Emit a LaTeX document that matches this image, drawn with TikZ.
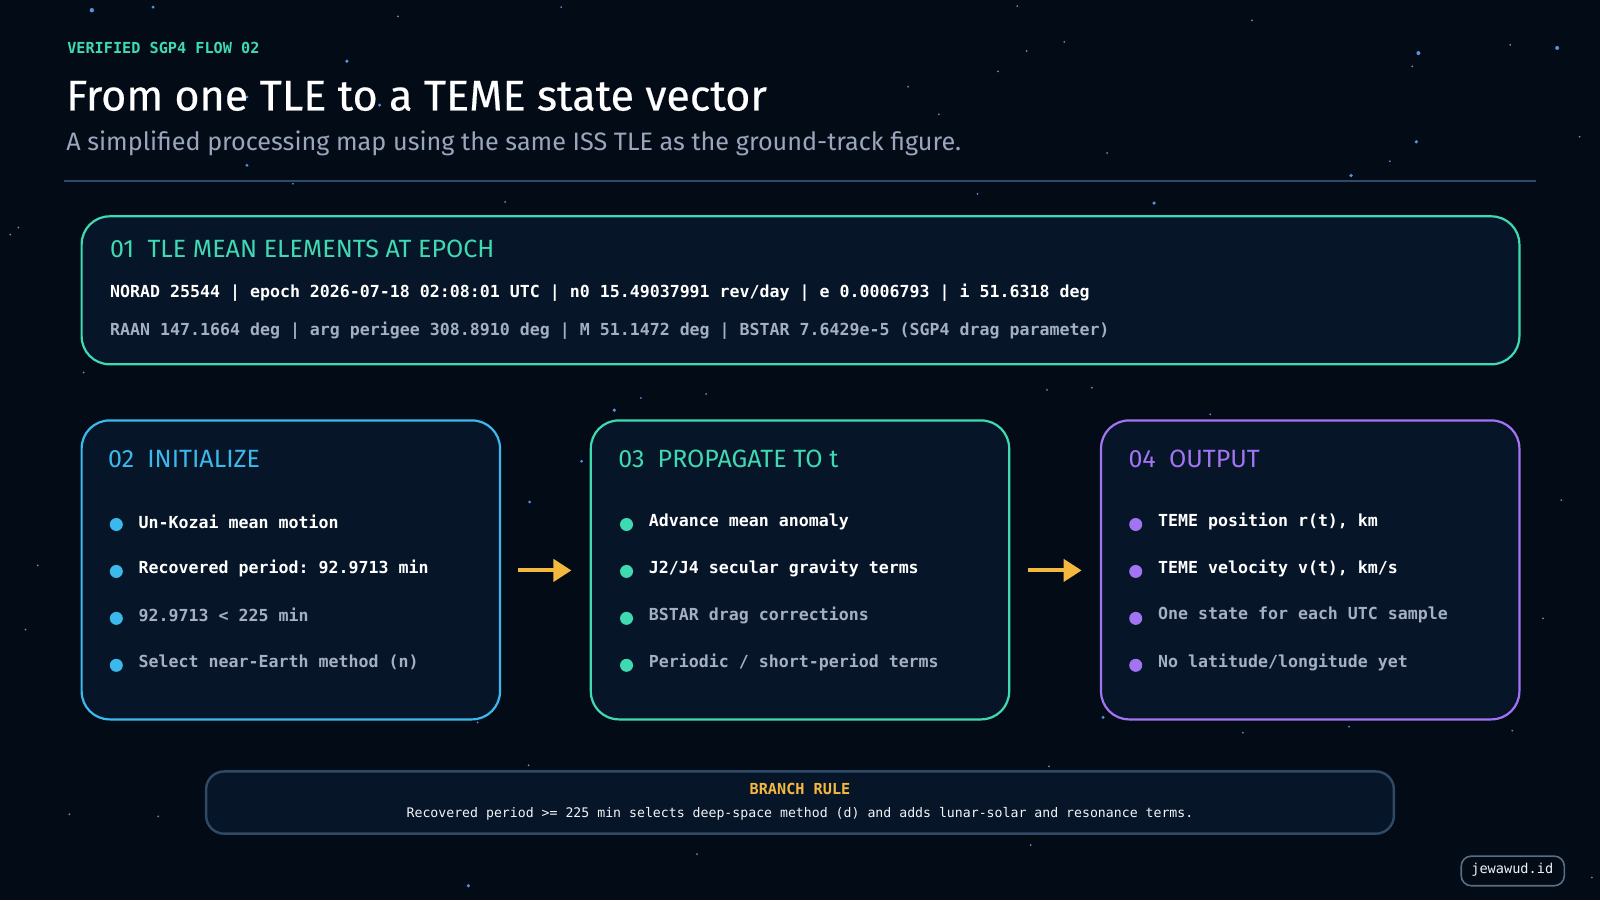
\documentclass[tikz,border=0pt]{standalone}
\usepackage{fontspec}
\setmainfont{Fira Sans}
\setmonofont{DejaVu Sans Mono}
\usetikzlibrary{arrows.meta}
\definecolor{bg}{HTML}{030B17}
\definecolor{boxf}{HTML}{061527}
\definecolor{teal}{HTML}{3FD9B2}
\definecolor{sky}{HTML}{3BB9EC}
\definecolor{purp}{HTML}{A274F2}
\definecolor{gold}{HTML}{F5B83F}
\definecolor{muted}{HTML}{9AA6BC}
\definecolor{rule}{HTML}{2E4A66}
\definecolor{star}{HTML}{5A8FE0}
\tikzset{
 card/.style={draw=#1,line width=1.1pt,rounded corners=14pt,fill=boxf},
 head/.style={anchor=west,text=#1,font=\fontsize{12.5}{14}\selectfont},
 item/.style={anchor=west,text=white,font=\ttfamily\bfseries\fontsize{8.3}{10}\selectfont},
 itemm/.style={anchor=west,text=muted!90!white,font=\ttfamily\bfseries\fontsize{8.3}{10}\selectfont},
 dot/.style={circle,fill=#1,inner sep=0pt,minimum size=6.5pt},
 arr/.style={draw=gold,line width=2pt,-{Triangle[length=9pt,width=11pt]}},
 st/.style={circle,fill=star,inner sep=0pt,minimum size=#1},
}
\newcommand{\bul}[5]{%
 \node[dot=#2] at (#1,514) {}; \node[item] at (#1+15,511) {#3};
 \node[dot=#2] at (#1,560) {}; \node[item] at (#1+15,557) {#4};}
\newcommand{\bulm}[4]{%
 \node[dot=#2] at (#1,606) {}; \node[itemm] at (#1+15,603) {#3};
 \node[dot=#2] at (#1,652) {}; \node[itemm] at (#1+15,649) {#4};}
\begin{document}
\begin{tikzpicture}[x=0.5102pt,y=-0.5102pt]
\useasboundingbox (0,0) rectangle (1568,882);
\fill[bg] (0,0) rectangle (1568,882);
% stars
\foreach \x/\y/\s in {90/10/2.2pt,150/7/1.6pt,340/60/1.8pt,242/162/1.6pt,1390/52/2pt,1526/47/2pt,1388/139/1.8pt,1324/172/1.8pt,1131/199/1.8pt,602/402/1.8pt,570/452/1.5pt,519/492/1.5pt,459/868/1.8pt,1081/703/1.6pt,1028/751/1pt,978/70/1pt,1043/41/1pt,1480/44/1pt,1548/134/1pt,18/223/1pt,10/230/1pt,82/365/1pt,37/554/1pt,68/798/1pt,155/800/1pt,683/837/1pt,1010/828/1pt,1218/718/1pt,1482/716/1pt,1512/606/1pt,1530/490/1pt,1186/406/1pt,1070/380/1pt,1026/382/1pt,628/390/1pt,692/386/1pt,518/750/1pt,468/708/1pt,890/85/1pt,920/112/1pt,1085/150/1pt,1362/158/1pt,958/190/1pt,495/198/1pt,287/180/1pt,390/16/1pt,550/7/1pt,997/6/1pt,1227/20/1pt,25/617/1pt,1322/712/1pt,1560/860/1pt,1006/50/1pt,1384/65/1pt,242/95/1.6pt,372/103/1.6pt}
  \node[st=\s] at (\x,\y) {};
% header
\node[anchor=west,text=teal,font=\ttfamily\bfseries\fontsize{7.6}{9}\selectfont] (kick) at (59,47) {VERIFIED SGP4 FLOW 02};
\node[anchor=west,text=white,font=\fontsize{21.5}{24}\selectfont\addfontfeatures{FakeBold=0.4}] (title) at (58,94) {From one TLE to a TEME state vector};
\node[anchor=west,text=muted,font=\fontsize{12.6}{14}\selectfont] (sub) at (58,140) {A simplified processing map using the same ISS TLE as the ground-track figure.};
\draw[rule,line width=1pt] (63,177) -- (1505,177);
% card 01
\draw[card=teal] (80,212) rectangle (1489,357);
\node[head=teal] (h1) at (101,244) {01\ \ TLE MEAN ELEMENTS AT EPOCH};
\node[item] (l1) at (101,287) {NORAD 25544 | epoch 2026-07-18 02:08:01 UTC | n0 15.49037991 rev/day | e 0.0006793 | i 51.6318 deg};
\node[itemm] (l2) at (101,324) {RAAN 147.1664 deg | arg perigee 308.8910 deg | M 51.1472 deg | BSTAR 7.6429e-5 (SGP4 drag parameter)};
% cards 02-04
\draw[card=sky] (80,412) rectangle (490,705);
\node[head=sky] (h2) at (99,450) {02\ \ INITIALIZE};
\draw[card=teal] (579,412) rectangle (989,705);
\node[head=teal] (h3) at (599,450) {03\ \ PROPAGATE TO t};
\draw[card=purp] (1079,412) rectangle (1489,705);
\node[head=purp] (h4) at (1099,450) {04\ \ OUTPUT};
\bul{114}{sky}{Un-Kozai mean motion}{Recovered period: 92.9713 min}{}
\bulm{114}{sky}{92.9713 < 225 min}{Select near-Earth method (n)}
\bul{614}{teal}{Advance mean anomaly}{J2/J4 secular gravity terms}{}
\bulm{614}{teal}{BSTAR drag corrections}{Periodic / short-period terms}
\bul{1113}{purp}{TEME position r(t), km}{TEME velocity v(t), km/s}{}
\bulm{1113}{purp}{One state for each UTC sample}{No latitude/longitude yet}
\coordinate (a1s) at (508,559); \coordinate (a1e) at (560,559);
\coordinate (a2s) at (1007,559); \coordinate (a2e) at (1060,559);
\draw[arr] (a1s) -- (a1e);
\draw[arr] (a2s) -- (a2e);
% branch rule
\draw[draw=rule,line width=1.2pt,rounded corners=9pt,fill=boxf] (202,756) rectangle (1366,817);
\node[text=gold,font=\ttfamily\bfseries\fontsize{7.6}{9}\selectfont] (br) at (784,773) {BRANCH RULE};
\node[text=white!88!muted,font=\ttfamily\fontsize{6.6}{8}\selectfont] (brt) at (784,798) {Recovered period >= 225 min selects deep-space method (d) and adds lunar-solar and resonance terms.};
% watermark
\draw[draw=rule!80!white,line width=0.8pt,rounded corners=5pt] (1432,839) rectangle (1533,868);
\node[text=white!85!muted,font=\ttfamily\fontsize{6.8}{8}\selectfont] (wm) at (1482,852) {jewawud.id};
\end{tikzpicture}
\end{document}
